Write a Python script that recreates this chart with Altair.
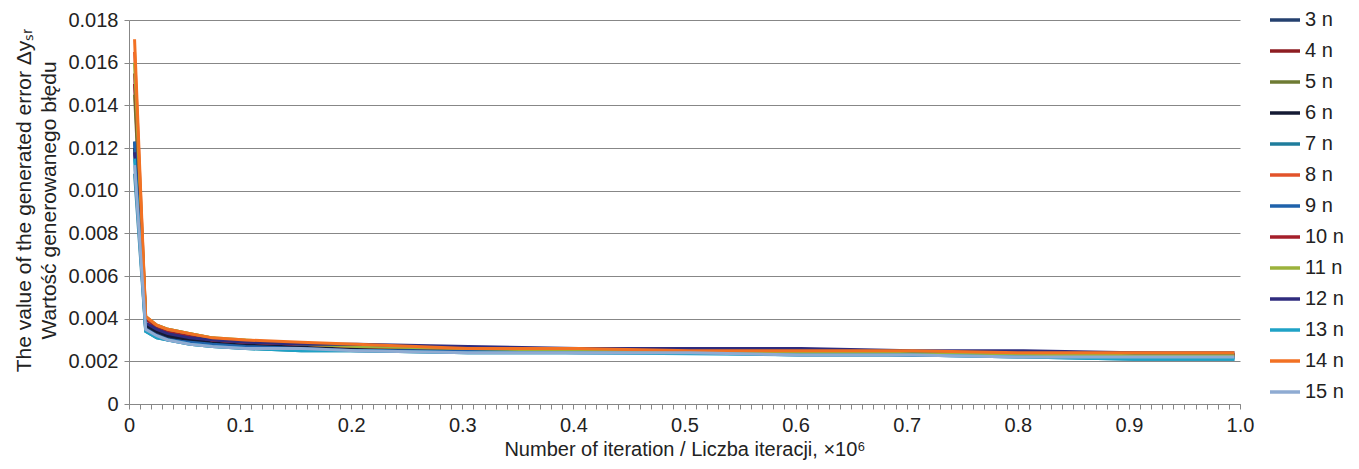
import altair as alt
import pandas as pd

# x positions (×10^6 iterations)
iterations = [0.005, 0.015, 0.025, 0.035, 0.055, 0.075, 0.105, 0.155, 0.205,
              0.305, 0.405, 0.505, 0.605, 0.705, 0.805, 0.905, 0.995]

series_names = ["3 n", "4 n", "5 n", "6 n", "7 n", "8 n", "9 n", "10 n",
                "11 n", "12 n", "13 n", "14 n", "15 n"]
series_colors = ["#24406f", "#8e1d22", "#6e7b33", "#141a33", "#1f7d9c", "#e2532a",
                 "#1f62ab", "#a51f2b", "#9bb23b", "#2f2c7e", "#1fa2c6", "#f27123",
                 "#8fabd2"]

s3  = [0.0123, 0.0036, 0.0033, 0.0031, 0.0029, 0.0028, 0.0027, 0.0026, 0.0026, 0.0025, 0.0025, 0.0024, 0.0024, 0.0023, 0.0023, 0.0022, 0.0022]
s4  = [0.0150, 0.0040, 0.0036, 0.0034, 0.0032, 0.0030, 0.0029, 0.0028, 0.0027, 0.0026, 0.0025, 0.0025, 0.0024, 0.0024, 0.0024, 0.0023, 0.0023]
s5  = [0.0145, 0.0040, 0.0037, 0.0035, 0.0033, 0.0031, 0.0029, 0.0028, 0.0027, 0.0026, 0.0025, 0.0025, 0.0024, 0.0024, 0.0023, 0.0023, 0.0022]
s6  = [0.0120, 0.0037, 0.0034, 0.0032, 0.0030, 0.0029, 0.0028, 0.0027, 0.0026, 0.0025, 0.0025, 0.0024, 0.0024, 0.0024, 0.0023, 0.0023, 0.0023]
s7  = [0.0108, 0.0034, 0.0031, 0.0030, 0.0028, 0.0027, 0.0026, 0.0025, 0.0025, 0.0024, 0.0024, 0.0024, 0.0023, 0.0023, 0.0022, 0.0021, 0.0021]
s8  = [0.0165, 0.0041, 0.0036, 0.0034, 0.0032, 0.0030, 0.0029, 0.0028, 0.0027, 0.0026, 0.0025, 0.0025, 0.0025, 0.0024, 0.0024, 0.0023, 0.0023]
s9  = [0.0123, 0.0035, 0.0032, 0.0030, 0.0029, 0.0028, 0.0027, 0.0026, 0.0025, 0.0025, 0.0024, 0.0024, 0.0024, 0.0023, 0.0023, 0.0022, 0.0022]
s10 = [0.0155, 0.0040, 0.0036, 0.0034, 0.0032, 0.0030, 0.0029, 0.0028, 0.0027, 0.0026, 0.0026, 0.0025, 0.0025, 0.0024, 0.0024, 0.0024, 0.0023]
s11 = [0.0160, 0.0041, 0.0037, 0.0035, 0.0033, 0.0031, 0.0030, 0.0028, 0.0027, 0.0026, 0.0025, 0.0025, 0.0024, 0.0024, 0.0023, 0.0023, 0.0023]
s12 = [0.0118, 0.0038, 0.0035, 0.0033, 0.0031, 0.0030, 0.0029, 0.0028, 0.0028, 0.0027, 0.0026, 0.0026, 0.0026, 0.0025, 0.0025, 0.0024, 0.0024]
s13 = [0.0115, 0.0034, 0.0031, 0.0030, 0.0028, 0.0027, 0.0026, 0.0025, 0.0025, 0.0024, 0.0024, 0.00235, 0.0023, 0.0023, 0.0022, 0.0021, 0.0021]
s14 = [0.0171, 0.0041, 0.0037, 0.0035, 0.0033, 0.0031, 0.0030, 0.0029, 0.0028, 0.0026, 0.0026, 0.0025, 0.0025, 0.0025, 0.0024, 0.0024, 0.0024]
s15 = [0.0112, 0.0035, 0.0032, 0.0030, 0.0028, 0.0027, 0.0026, 0.0026, 0.0025, 0.0024, 0.0024, 0.0024, 0.0023, 0.0023, 0.0022, 0.0022, 0.0022]

all_series = [s3, s4, s5, s6, s7, s8, s9, s10, s11, s12, s13, s14, s15]

y_ticks = [0, 0.002, 0.004, 0.006, 0.008, 0.010, 0.012, 0.014, 0.016, 0.018]
x_ticks = [i / 100 for i in range(101)]

rows = []
for name, vals in zip(series_names, all_series):
    for x, v in zip(iterations, vals):
        rows.append({"series": name, "x": x, "y": v})
df = pd.DataFrame(rows)

FONT = "Liberation Sans"
GREY = "#878787"

chart = alt.Chart(df).mark_line(strokeWidth=3).encode(
    x=alt.X("x:Q",
            scale=alt.Scale(domain=[0, 1], nice=False, zero=False),
            axis=alt.Axis(
                values=x_ticks,
                labelExpr="round(datum.value*100) % 10 == 0 ? (datum.value == 0 ? '0' : format(datum.value, '.1f')) : ''",
                labelOverlap=False, labelFlush=False,
                grid=False, tickSize=5, tickColor=GREY, domainColor=GREY,
                labelFontSize=20, labelFont=FONT, labelColor="#222222", labelPadding=6,
                title="Number of  iteration / Liczba iteracji, ×10⁶",
                titleFontSize=20, titleFont=FONT, titleFontWeight="normal",
                titleColor="#222222", titlePadding=4)),
    y=alt.Y("y:Q",
            scale=alt.Scale(domain=[0, 0.018], nice=False),
            axis=alt.Axis(
                values=y_ticks,
                labelExpr="datum.value == 0 ? '0' : format(datum.value, '.3f')",
                grid=True, gridColor=GREY, gridWidth=1, gridOpacity=1,
                tickSize=5, tickColor=GREY, domainColor=GREY,
                labelFontSize=20, labelFont=FONT, labelColor="#222222", labelPadding=6,
                title=["The value of the generated error Δyₛᵣ", "Wartość generowanego błędu"],
                titleFontSize=21, titleFont=FONT, titleFontWeight="normal",
                titleColor="#222222", titlePadding=8, titleLineHeight=25,
                titleY=180)),
    color=alt.Color("series:N",
                    sort=series_names,
                    scale=alt.Scale(domain=series_names, range=series_colors),
                    legend=alt.Legend(
                        title=None, orient="none", legendX=1139, legendY=-11,
                        symbolType="stroke", symbolSize=900, symbolStrokeWidth=3.5,
                        labelFontSize=20, labelFont=FONT, labelColor="#222222",
                        labelOffset=3, clipHeight=22, rowPadding=9.0, padding=0)),
    order=alt.Order("x:Q"),
).properties(
    width=1111, height=384,
    autosize=alt.AutoSizeParams(type="none"),
    padding={"left": 121, "top": 12, "right": 111, "bottom": 57},
).configure_view(stroke=None)

chart.save("out.html", embed_options={"renderer": "svg", "actions": False})
